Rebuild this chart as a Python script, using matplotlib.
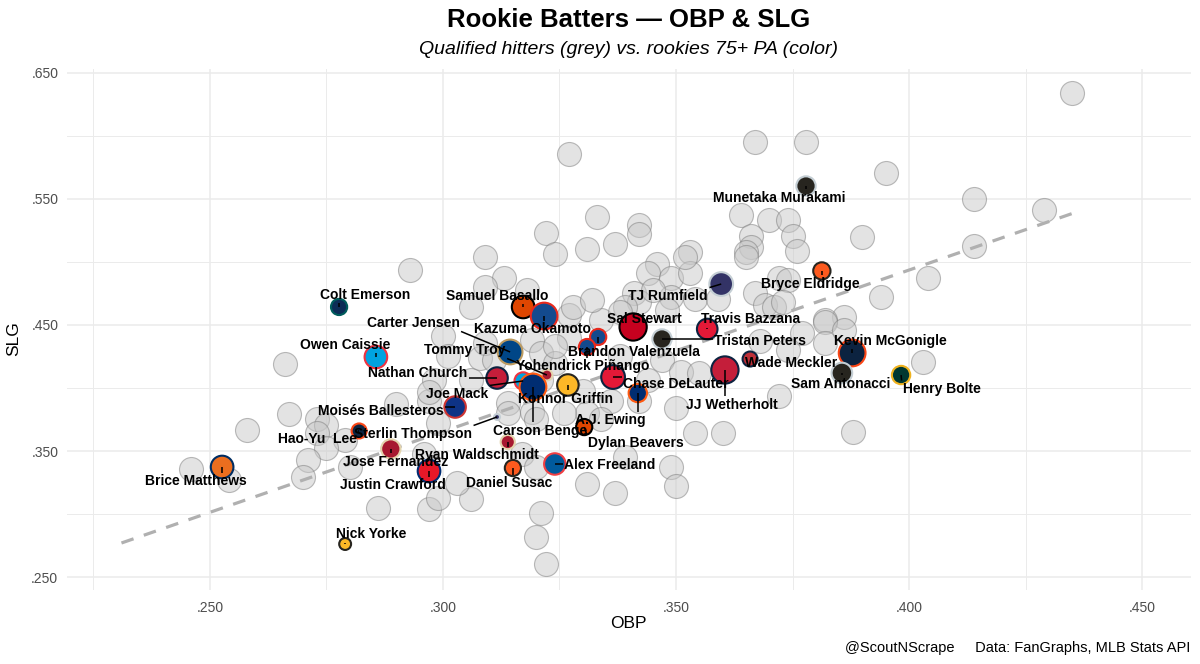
import matplotlib
matplotlib.use("Agg")
import matplotlib.pyplot as plt
from matplotlib.ticker import FuncFormatter, MultipleLocator
import numpy as np

plt.rcParams['font.family'] = ['Liberation Sans', 'DejaVu Sans']

# ---------------- data ----------------
# Qualified hitters (grey)
q_obp = [0.435, 0.327, 0.367, 0.378, 0.395, 0.414, 0.429, 0.390, 0.414, 0.404,
         0.394, 0.386, 0.382, 0.403, 0.388, 0.333, 0.322, 0.324, 0.342, 0.342,
         0.331, 0.337, 0.309, 0.353, 0.346, 0.344, 0.349, 0.353, 0.313, 0.364,
         0.370, 0.374, 0.366, 0.375, 0.366, 0.365, 0.376, 0.318, 0.306, 0.341,
         0.342, 0.339, 0.349, 0.354, 0.359, 0.367, 0.372, 0.374, 0.369, 0.371,
         0.327, 0.334, 0.382, 0.293, 0.300, 0.266, 0.267, 0.258, 0.246, 0.254,
         0.273, 0.275, 0.273, 0.279, 0.290, 0.275, 0.271, 0.270, 0.280, 0.286,
         0.297, 0.299, 0.297, 0.298, 0.296, 0.321, 0.320, 0.322, 0.306, 0.331,
         0.337, 0.349, 0.350, 0.360, 0.372, 0.350, 0.339, 0.331, 0.317, 0.320,
         0.303, 0.301, 0.297, 0.306, 0.308, 0.309, 0.319, 0.321, 0.324, 0.314,
         0.319, 0.299, 0.309, 0.328, 0.332, 0.338, 0.345, 0.348, 0.327, 0.324,
         0.338, 0.347, 0.351, 0.344, 0.311, 0.321, 0.330, 0.336, 0.314, 0.320,
         0.326, 0.334, 0.342, 0.354, 0.352, 0.365, 0.373, 0.377, 0.374, 0.382,
         0.386, 0.355, 0.368]
q_slg = [0.634, 0.586, 0.595, 0.595, 0.571, 0.550, 0.541, 0.520, 0.513, 0.487,
         0.472, 0.456, 0.454, 0.421, 0.365, 0.536, 0.523, 0.506, 0.529, 0.522,
         0.510, 0.514, 0.504, 0.508, 0.498, 0.491, 0.487, 0.491, 0.487, 0.537,
         0.533, 0.533, 0.521, 0.521, 0.512, 0.508, 0.509, 0.478, 0.464, 0.475,
         0.468, 0.464, 0.472, 0.471, 0.471, 0.475, 0.487, 0.486, 0.466, 0.464,
         0.458, 0.454, 0.452, 0.494, 0.441, 0.419, 0.379, 0.367, 0.336, 0.327,
         0.375, 0.371, 0.364, 0.359, 0.387, 0.352, 0.343, 0.329, 0.337, 0.305,
         0.304, 0.313, 0.390, 0.406, 0.348, 0.301, 0.282, 0.260, 0.312, 0.324,
         0.317, 0.337, 0.322, 0.364, 0.394, 0.384, 0.345, 0.380, 0.348, 0.337,
         0.325, 0.425, 0.397, 0.406, 0.424, 0.436, 0.438, 0.428, 0.420, 0.388,
         0.381, 0.372, 0.480, 0.464, 0.470, 0.460, 0.478, 0.462, 0.440, 0.433,
         0.425, 0.422, 0.413, 0.406, 0.422, 0.406, 0.398, 0.390, 0.380, 0.375,
         0.380, 0.375, 0.390, 0.364, 0.504, 0.504, 0.468, 0.444, 0.430, 0.436,
         0.446, 0.412, 0.437]

# Rookies 75+ PA (color)
r_names = ["Munetaka Murakami", "Bryce Eldridge", "TJ Rumfield", "Samuel Basallo",
           "Kazuma Okamoto", "Sal Stewart", "Travis Bazzana", "Tristan Peters",
           "Brandon Valenzuela", "Yohendrick Piñango", "Carter Jensen", "Tommy Troy",
           "Colt Emerson", "Owen Caissie", "Nathan Church", "Joe Mack",
           "Carson Benge", "Konnor Griffin", "Chase DeLauter", "A.J. Ewing",
           "JJ Wetherholt", "Wade Meckler", "Kevin McGonigle", "Sam Antonacci",
           "Henry Bolte", "Moisés Ballesteros", "Sterlin Thompson", "Hao-Yu  Lee",
           "Dylan Beavers", "Jose Fernandez", "Ryan Waldschmidt", "Alex Freeland",
           "Daniel Susac", "Justin Crawford", "Brice Matthews", "Nick Yorke"]
r_obp = [0.3779, 0.3813, 0.3597, 0.3172, 0.3217, 0.3408, 0.3567, 0.3470,
         0.3333, 0.3309, 0.3144, 0.3223, 0.2777, 0.2856, 0.3116, 0.3172,
         0.3193, 0.3268, 0.3365, 0.3418, 0.3605, 0.3659, 0.3878, 0.3856,
         0.3983, 0.3026, 0.3116, 0.2820, 0.3303, 0.2888, 0.3139, 0.3240,
         0.3150, 0.2970, 0.2526, 0.2790]
r_slg = [0.5603, 0.4929, 0.4825, 0.4643, 0.4571, 0.4484, 0.4468, 0.4389,
         0.4405, 0.4325, 0.4286, 0.4103, 0.4643, 0.4246, 0.4079, 0.4056,
         0.4008, 0.4024, 0.4087, 0.3960, 0.4143, 0.4230, 0.4278, 0.4119,
         0.4103, 0.3849, 0.3770, 0.3659, 0.3690, 0.3516, 0.3571, 0.3397,
         0.3365, 0.3341, 0.3373, 0.2762]
r_pa = [330, 270, 480, 440, 600, 620, 370, 330,
        240, 240, 520, 120, 240, 440, 400, 270,
        600, 400, 480, 300, 620, 210, 600, 370,
        300, 400, 45, 210, 240, 330, 190, 400,
        240, 440, 440, 140]
r_fill = ["#27251f", "#fd5a1e", "#333366", "#df4601", "#134a8e", "#c6011f", "#e31937", "#27251f",
          "#134a8e", "#134a8e", "#004687", "#a71930", "#0c2c56", "#00a3e0", "#c41e3a", "#00a3e0",
          "#002d72", "#fdb827", "#e31937", "#002d72", "#c41e3a", "#bd3039", "#0c2340", "#27251f",
          "#003831", "#0e3386", "#333366", "#0c2340", "#df4601", "#a71930", "#a71930", "#005a9c",
          "#fd5a1e", "#e81828", "#eb6e1f", "#fdb827"]
r_edge = ["#c4ced4", "#27251f", "#c4ced4", "#000000", "#e8291c", "#000000", "#0c2340", "#c4ced4",
          "#e8291c", "#e8291c", "#bd9b60", "#e3d4ad", "#005c5c", "#ef3340", "#0c2340", "#ef3340",
          "#ff5910", "#27251f", "#0c2340", "#ff5910", "#0c2340", "#0c2340", "#fa4616", "#c4ced4",
          "#efb21e", "#cc3433", "#c4ced4", "#fa4616", "#000000", "#e3d4ad", "#e3d4ad", "#ef3e42",
          "#27251f", "#002d72", "#002d62", "#27251f"]

# Trend line
trend_obp = [0.231, 0.437]
trend_slg = [0.277, 0.541]

x_ticks = [0.250, 0.300, 0.350, 0.400, 0.450]
y_ticks = [0.250, 0.350, 0.450, 0.550, 0.650]

# ---------------- layout (label offsets, pixels: right, up) ----------------
label_offsets = {
    "Munetaka Murakami": (-27, -12), "Bryce Eldridge": (-12, -13), "TJ Rumfield": (-53, -12),
    "Samuel Basallo": (-26, 11), "Kazuma Okamoto": (-12, -13), "Sal Stewart": (11, 8),
    "Travis Bazzana": (43, 10), "Tristan Peters": (98, -2), "Brandon Valenzuela": (36, -15),
    "Yohendrick Piñango": (-4, -19), "Carter Jensen": (-97, 29), "Tommy Troy": (-82, 25),
    "Colt Emerson": (26, 12), "Owen Caissie": (-31, 12), "Nathan Church": (-79, 5),
    "Joe Mack": (-66, -13), "Carson Benge": (7, -44), "Konnor Griffin": (-2, -14),
    "Chase DeLauter": (63, -7), "A.J. Ewing": (-27, -27), "JJ Wetherholt": (7, -35),
    "Wade Meckler": (41, -4), "Kevin McGonigle": (38, 12), "Sam Antonacci": (-1, -11),
    "Henry Bolte": (41, -14), "Moisés Ballesteros": (-74, -4), "Sterlin Thompson": (-84, -17),
    "Hao-Yu  Lee": (-42, -8), "Dylan Beavers": (52, -16), "Jose Fernandez": (5, -13),
    "Ryan Waldschmidt": (-31, -13), "Alex Freeland": (55, -1), "Daniel Susac": (-4, -15),
    "Justin Crawford": (-36, -14), "Brice Matthews": (-26, -14), "Nick Yorke": (26, 10),
}

W, H, DPI = 1200, 664, 100
fig = plt.figure(figsize=(W / DPI, H / DPI), dpi=DPI)
fig.patch.set_facecolor("white")
ax = fig.add_axes([66.7 / W, 1 - 590 / H, (1190.7 - 66.7) / W, (590 - 69.3) / H])
ax.set_facecolor("white")

ax.set_xlim(0.21925, 0.46045)
ax.set_ylim(0.2397, 0.6529)

for s in ax.spines.values():
    s.set_visible(False)
ax.xaxis.set_major_locator(MultipleLocator(0.05))
ax.xaxis.set_minor_locator(MultipleLocator(0.025))
ax.yaxis.set_major_locator(MultipleLocator(0.1))
ax.yaxis.set_minor_locator(MultipleLocator(0.05))
ax.set_xticks(x_ticks)
ax.set_yticks(y_ticks)
fmt = FuncFormatter(lambda v, p: f"{v:.3f}".lstrip("0"))
ax.xaxis.set_major_formatter(fmt)
ax.yaxis.set_major_formatter(fmt)
ax.grid(which="major", color="#ebebeb", lw=1.1)
ax.grid(which="minor", color="#ebebeb", lw=0.7)
ax.set_axisbelow(True)
ax.tick_params(which="both", length=0)
ax.tick_params(axis="x", pad=8, labelsize=10, labelcolor="#4d4d4d")
ax.tick_params(axis="y", pad=6, labelsize=10, labelcolor="#4d4d4d")

# grey qualified hitters
d_grey = 24 * 0.72
ax.scatter(q_obp, q_slg, s=d_grey ** 2, facecolor="#c8c8c8", edgecolor="#7a7a7a",
           linewidths=0.8, alpha=0.5, zorder=2)

# trend line
ax.plot(trend_obp, trend_slg, color="#b0b0b0", lw=2.3, dashes=(4, 3.4),
        solid_capstyle="butt", dash_capstyle="butt", zorder=3)

# rookies
sizes = [(np.sqrt(p / 0.83) * 0.72 * 1.07 - 1.44) ** 2 for p in r_pa]
ax.scatter(r_obp, r_slg, s=sizes, c=r_fill, edgecolors=r_edge, linewidths=1.5, zorder=4)

# labels
texts = []
for name, x, y in zip(r_names, r_obp, r_slg):
    dx, dy = label_offsets[name]
    t = ax.annotate(name, (x, y), xytext=(dx, dy), textcoords="offset pixels",
                    ha="center", va="center", fontsize=10, fontweight="bold",
                    color="black", zorder=6)
    texts.append(t)

fig.canvas.draw()
renderer = fig.canvas.get_renderer()
inv = ax.transData.inverted()
pad = 1.5
for t, x, y in zip(texts, r_obp, r_slg):
    bb = t.get_window_extent(renderer)
    px, py = ax.transData.transform((x, y))
    x0, x1, y0, y1 = bb.x0 - pad, bb.x1 + pad, bb.y0 - pad, bb.y1 + pad
    cx = min(max(px, x0), x1)
    cy = min(max(py, y0), y1)
    if abs(cx - px) < 0.5 and abs(cy - py) < 0.5:
        continue
    seg = inv.transform([(px, py), (cx, cy)])
    ax.plot(seg[:, 0], seg[:, 1], color="black", lw=1.1, zorder=5,
            solid_capstyle="butt")

# titles / axis labels
cx_fig = (66.7 + 1190.7) / 2 / W
fig.text(cx_fig, 1 - 20 / H, "Rookie Batters — OBP & SLG", ha="center", va="center",
         fontsize=18.5, fontweight="bold", color="black")
fig.text(cx_fig, 1 - 50 / H, "Qualified hitters (grey) vs. rookies 75+ PA (color)",
         ha="center", va="center", fontsize=14, style="italic", color="black")
fig.text(cx_fig, 1 - 623 / H, "OBP", ha="center", va="center", fontsize=12.5, color="black")
fig.text(14 / W, 1 - 339 / H, "SLG", ha="center", va="center", fontsize=12.5,
         rotation=90, color="black")
fig.text(1190 / W, 1 - 648 / H, "@ScoutNScrape     Data: FanGraphs, MLB Stats API",
         ha="right", va="center", fontsize=10.5, color="black")

fig.savefig("out.png", dpi=DPI, facecolor="white")
